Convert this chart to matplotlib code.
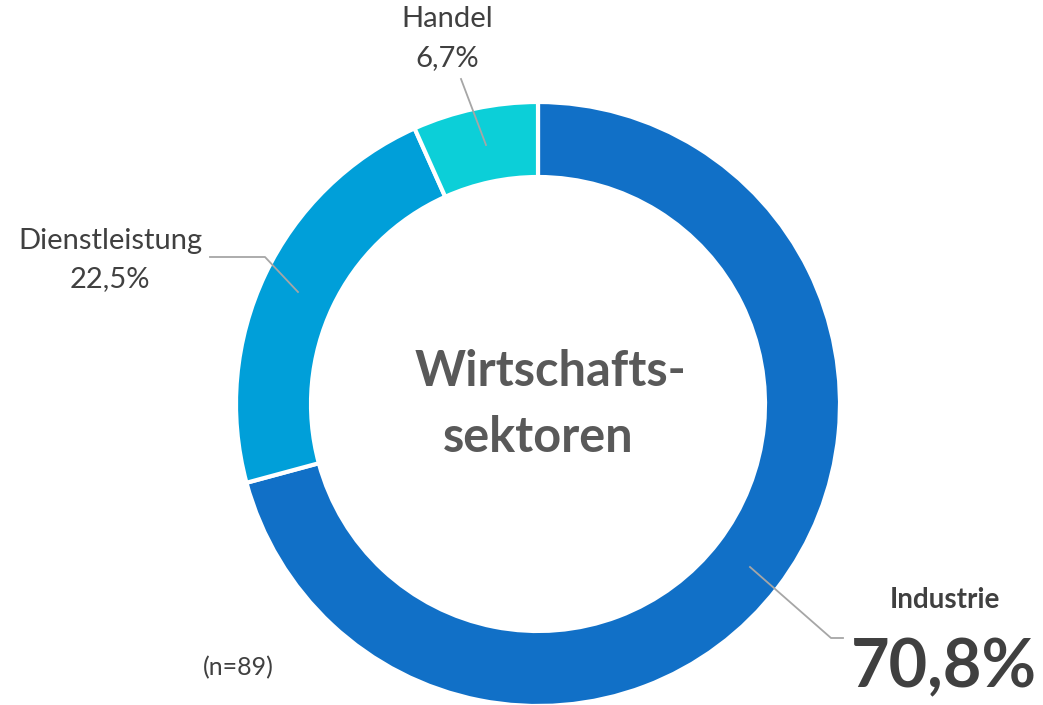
import matplotlib
matplotlib.use("Agg")
import matplotlib.pyplot as plt

# data
sectors = ["Industrie", "Dienstleistung", "Handel"]
shares = [70.8, 22.5, 6.7]
colors = ["#1170C7", "#009FD9", "#0CCFD8"]
n_total = 89

plt.rcParams['font.family'] = ['Lato', 'DejaVu Sans']

W, H = 1043, 705
fig = plt.figure(figsize=(W / 100, H / 100), dpi=100)
ax = fig.add_axes([0, 0, 1, 1])

cx, cy = 538, H - 404
r_out = 302
ring = 75

ax.pie(shares, colors=colors, startangle=90, counterclock=False,
       radius=r_out, center=(cx, cy), frame=True,
       wedgeprops=dict(width=ring, edgecolor='white', linewidth=3))
ax.set_xlim(0, W)
ax.set_ylim(0, H)
ax.set_aspect('equal')
ax.axis('off')

def fmt(v):
    return f"{v:.1f}".replace('.', ',') + "%"

lab_col = '#404040'
line_col = '#A6A6A6'

def yy(y):
    return H - y

# leader lines (image coords)
ax.plot([486, 461], [yy(145), yy(79)], color=line_col, lw=1.3)
ax.plot([298, 265, 210], [yy(292), yy(257), yy(257)], color=line_col, lw=1.3)
ax.plot([750, 831, 843], [yy(567), yy(638), yy(638)], color=line_col, lw=1.3)

# labels
ax.text(447, yy(19), sectors[2], ha='center', va='center', fontsize=21, color=lab_col)
ax.text(447, yy(58), fmt(shares[2]), ha='center', va='center', fontsize=21, color=lab_col)
ax.text(110, yy(241), sectors[1], ha='center', va='center', fontsize=21, color=lab_col)
ax.text(110, yy(279), fmt(shares[1]), ha='center', va='center', fontsize=21, color=lab_col)
ax.text(945, yy(600), sectors[0], ha='center', va='center', fontsize=20,
        fontweight='bold', color=lab_col)
ax.text(944, yy(668), fmt(shares[0]), ha='center', va='center', fontsize=48,
        fontweight='bold', color=lab_col)

ax.text(238, yy(668), f"(n={n_total})", ha='center', va='center', fontsize=18, color=lab_col)

# center title
ax.text(cx + 12, yy(372), "Wirtschafts-", ha='center', va='center', fontsize=35,
        fontweight='bold', color='#595959')
ax.text(cx, yy(437), "sektoren", ha='center', va='center', fontsize=35,
        fontweight='bold', color='#595959')

fig.savefig("out.png", dpi=100)
